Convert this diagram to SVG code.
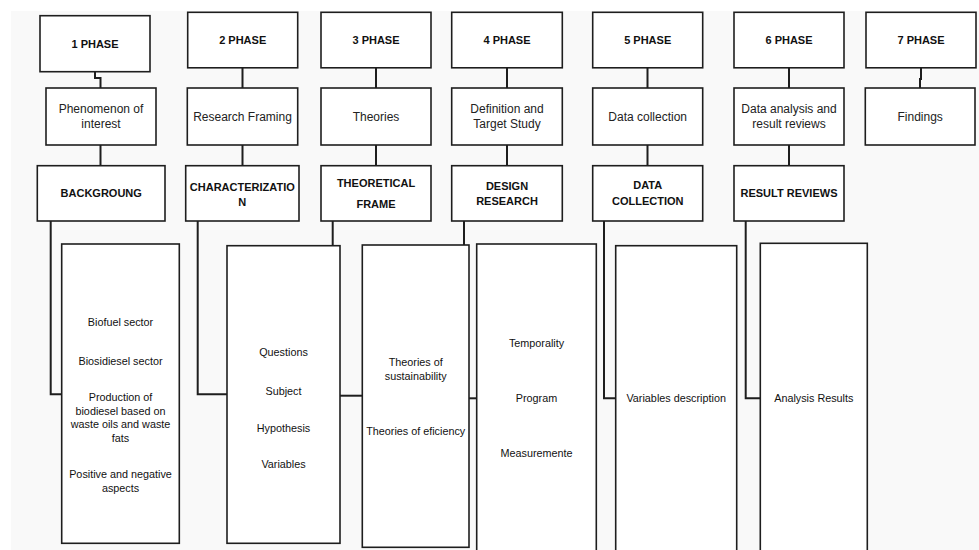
<svg xmlns="http://www.w3.org/2000/svg" width="979" height="550" viewBox="0 0 979 550">
<style>
.box{fill:#ffffff;stroke:#1e1e1e;stroke-width:1.6}
.con{fill:none;stroke:#1e1e1e;stroke-width:2}
.h{font-family:"Liberation Sans",Arial,sans-serif;font-size:11px;font-weight:bold;fill:#111;text-anchor:middle}
.m{font-family:"Liberation Sans",Arial,sans-serif;font-size:12px;fill:#222;text-anchor:middle}
.d{font-family:"Liberation Sans",Arial,sans-serif;font-size:10.8px;fill:#111;text-anchor:middle}
</style>
<rect x="0" y="0" width="979" height="550" fill="#ffffff"/>
<rect x="11" y="11" width="968" height="539" fill="#f9f9f9"/>

<g id="connectors">
<path class="con" d="M95 72 V78 H100.5 V88"/>
<path class="con" d="M100.5 145 V166"/>
<path class="con" d="M242.5 68 V88 M242.5 145 V166"/>
<path class="con" d="M376 68 V88 M376 145 V166"/>
<path class="con" d="M507 68 V88 M507 145 V166"/>
<path class="con" d="M647.5 68 V88 M647.5 145 V166"/>
<path class="con" d="M789 68 V88 M789 145 V166"/>
<path class="con" d="M921 68 V79 H920 V88"/>
<path class="con" d="M50.7 221 V394.3 H61.7"/>
<path class="con" d="M197.7 221 V394.3 H227"/>
<path class="con" d="M332.7 221 V245.5"/>
<path class="con" d="M340 395.7 H362.3"/>
<path class="con" d="M464 221 V245"/>
<path class="con" d="M469 398.3 H476.7"/>
<path class="con" d="M604 221 V398.3 H615.7"/>
<path class="con" d="M745.7 221 V398.3 H760.3"/>
</g>

<g id="phase1"><rect class="box" x="40" y="15.7" width="110" height="56"/><text class="h" x="95" y="47.5">1 PHASE</text></g>
<g id="phase2"><rect class="box" x="187.7" y="12.3" width="110" height="55.5"/><text class="h" x="242.7" y="43.5">2 PHASE</text></g>
<g id="phase3"><rect class="box" x="321" y="12.3" width="110" height="55.5"/><text class="h" x="376" y="43.5">3 PHASE</text></g>
<g id="phase4"><rect class="box" x="451.7" y="12.3" width="110.6" height="55.5"/><text class="h" x="507" y="43.5">4 PHASE</text></g>
<g id="phase5"><rect class="box" x="592.7" y="12.3" width="110" height="55.5"/><text class="h" x="647.7" y="43.5">5 PHASE</text></g>
<g id="phase6"><rect class="box" x="734" y="12.3" width="110" height="55.5"/><text class="h" x="789" y="43.5">6 PHASE</text></g>
<g id="phase7"><rect class="box" x="866" y="12.3" width="110" height="55.5"/><text class="h" x="921" y="43.5">7 PHASE</text></g>

<g id="phenomenon"><rect class="box" x="46" y="88" width="110" height="57"/><text class="m" x="101" y="112.5">Phenomenon of</text><text class="m" x="101" y="128.2">interest</text></g>
<g id="research-framing"><rect class="box" x="187.3" y="88" width="110.4" height="57"/><text class="m" x="242.5" y="120.9">Research Framing</text></g>
<g id="theories"><rect class="box" x="321" y="88" width="110" height="57"/><text class="m" x="376" y="120.9">Theories</text></g>
<g id="definition"><rect class="box" x="451.7" y="88" width="110.6" height="57"/><text class="m" x="507" y="112.5">Definition and</text><text class="m" x="507" y="128.2">Target Study</text></g>
<g id="data-collection"><rect class="box" x="592.7" y="88" width="110" height="57"/><text class="m" x="647.7" y="120.9">Data collection</text></g>
<g id="data-analysis"><rect class="box" x="734" y="88" width="110" height="57"/><text class="m" x="789" y="112.5">Data analysis and</text><text class="m" x="789" y="128.2">result reviews</text></g>
<g id="findings"><rect class="box" x="865.3" y="88" width="109.7" height="57"/><text class="m" x="920.2" y="120.9">Findings</text></g>

<g id="backgroung"><rect class="box" x="37.3" y="165.7" width="127.7" height="55.3"/><text class="h" x="101.2" y="197.3">BACKGROUNG</text></g>
<g id="characterization"><rect class="box" x="185.7" y="165.7" width="113.3" height="55.3"/><text class="h" x="242.3" y="190.7">CHARACTERIZATIO</text><text class="h" x="242.3" y="205.7">N</text></g>
<g id="theoretical-frame"><rect class="box" x="321" y="165.7" width="110" height="55.3"/><text class="h" x="376" y="186.7">THEORETICAL</text><text class="h" x="376" y="208">FRAME</text></g>
<g id="design-research"><rect class="box" x="451.7" y="165.7" width="110.6" height="55.3"/><text class="h" x="507" y="189.7">DESIGN</text><text class="h" x="507" y="205">RESEARCH</text></g>
<g id="data-collection-2"><rect class="box" x="592.7" y="165.7" width="110" height="55.3"/><text class="h" x="647.7" y="189">DATA</text><text class="h" x="647.7" y="205">COLLECTION</text></g>
<g id="result-reviews"><rect class="box" x="734" y="165.7" width="110" height="55.3"/><text class="h" x="789" y="197.3">RESULT REVIEWS</text></g>

<g id="detail-background"><rect class="box" x="61.7" y="244" width="117.6" height="299.3"/>
<text class="d" x="120.5" y="326.2">Biofuel sector</text>
<text class="d" x="120.5" y="364.6">Biosidiesel sector</text>
<text class="d" x="120.5" y="401.2">Production of</text>
<text class="d" x="120.5" y="414.9">biodiesel based on</text>
<text class="d" x="120.5" y="428.2">waste oils and waste</text>
<text class="d" x="120.5" y="442.2">fats</text>
<text class="d" x="120.5" y="478.2">Positive and negative</text>
<text class="d" x="120.5" y="491.6">aspects</text>
</g>
<g id="detail-characterization"><rect class="box" x="227" y="245.7" width="113" height="297.6"/>
<text class="d" x="283.5" y="355.6">Questions</text>
<text class="d" x="283.5" y="394.6">Subject</text>
<text class="d" x="283.5" y="431.6">Hypothesis</text>
<text class="d" x="283.5" y="468.2">Variables</text>
</g>
<g id="detail-theoretical"><rect class="box" x="362.3" y="245" width="106.7" height="302.3"/>
<text class="d" x="415.7" y="365.6">Theories of</text>
<text class="d" x="415.7" y="379.6">sustainability</text>
<text class="d" x="415.7" y="434.6">Theories of eficiency</text>
</g>
<g id="detail-design"><rect class="box" x="476.7" y="244" width="119.6" height="320"/>
<text class="d" x="536.5" y="346.6">Temporality</text>
<text class="d" x="536.5" y="401.6">Program</text>
<text class="d" x="536.5" y="457.2">Measuremente</text>
</g>
<g id="detail-data"><rect class="box" x="615.7" y="245.7" width="121" height="320"/>
<text class="d" x="676.2" y="402.2">Variables description</text>
</g>
<g id="detail-results"><rect class="box" x="760.3" y="243.3" width="107" height="320"/>
<text class="d" x="813.8" y="402.2">Analysis Results</text>
</g>
</svg>
